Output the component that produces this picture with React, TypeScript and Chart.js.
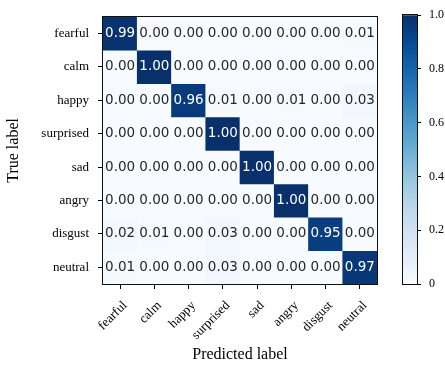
import React, { useEffect, useRef } from 'react';
import { Chart, registerables } from 'chart.js';

Chart.register(...registerables);

// ---- data ----
const trueLabels = ['fearful', 'calm', 'happy', 'surprised', 'sad', 'angry', 'disgust', 'neutral'];
const predictedLabels = ['fearful', 'calm', 'happy', 'surprised', 'sad', 'angry', 'disgust', 'neutral'];

const rowFearful = [0.99, 0.0, 0.0, 0.0, 0.0, 0.0, 0.0, 0.01];
const rowCalm = [0.0, 1.0, 0.0, 0.0, 0.0, 0.0, 0.0, 0.0];
const rowHappy = [0.0, 0.0, 0.96, 0.01, 0.0, 0.01, 0.0, 0.03];
const rowSurprised = [0.0, 0.0, 0.0, 1.0, 0.0, 0.0, 0.0, 0.0];
const rowSad = [0.0, 0.0, 0.0, 0.0, 1.0, 0.0, 0.0, 0.0];
const rowAngry = [0.0, 0.0, 0.0, 0.0, 0.0, 1.0, 0.0, 0.0];
const rowDisgust = [0.02, 0.01, 0.0, 0.03, 0.0, 0.0, 0.95, 0.0];
const rowNeutral = [0.01, 0.0, 0.0, 0.03, 0.0, 0.0, 0.0, 0.97];

const matrix = [rowFearful, rowCalm, rowHappy, rowSurprised, rowSad, rowAngry, rowDisgust, rowNeutral];

const colorbarTicks = [0, 0.2, 0.4, 0.6, 0.8, 1.0];

// ---- colormap (matplotlib "Blues") ----
const BLUES: number[][] = [
  [247, 251, 255],
  [222, 235, 247],
  [198, 219, 239],
  [158, 202, 225],
  [107, 174, 214],
  [66, 146, 198],
  [33, 113, 181],
  [8, 81, 156],
  [8, 48, 107],
];

function blues(t: number): string {
  const v = Math.max(0, Math.min(1, t));
  const p = v * (BLUES.length - 1);
  const i = Math.min(BLUES.length - 2, Math.floor(p));
  const f = p - i;
  const a = BLUES[i];
  const b = BLUES[i + 1];
  const c = a.map((x, k) => Math.round(x + (b[k] - x) * f));
  return `rgb(${c[0]},${c[1]},${c[2]})`;
}

const SERIF = '"Liberation Serif", "DejaVu Serif", serif';

const framePlugin = {
  id: 'frame',
  afterDraw(chart: any) {
    const { ctx, chartArea: a } = chart;
    ctx.save();
    ctx.strokeStyle = '#111';
    ctx.lineWidth = 1;
    const l = Math.round(a.left) - 0.5;
    const t = Math.round(a.top) - 0.5;
    const r = Math.round(a.right) + 0.5;
    const b = Math.round(a.bottom) + 0.5;
    ctx.strokeRect(l, t, r - l, b - t);
    ctx.restore();
  },
};

const cellTextPlugin = {
  id: 'cellText',
  afterDatasetsDraw(chart: any) {
    const ctx = chart.ctx;
    ctx.save();
    ctx.font = '13.5px "DejaVu Sans", sans-serif';
    ctx.textAlign = 'center';
    ctx.textBaseline = 'middle';
    chart.data.datasets.forEach((_ds: any, r: number) => {
      const meta = chart.getDatasetMeta(r);
      meta.data.forEach((el: any, c: number) => {
        const v = matrix[r][c];
        const { x, y, base } = el.getProps(['x', 'y', 'base'], true);
        ctx.fillStyle = v > 0.5 ? '#ffffff' : '#262626';
        ctx.fillText(v.toFixed(2), x, (y + base) / 2);
      });
    });
    ctx.restore();
  },
};

export default function App() {
  const mainRef = useRef<HTMLCanvasElement>(null);
  const cbRef = useRef<HTMLCanvasElement>(null);

  useEffect(() => {
    if (!mainRef.current || !cbRef.current) return;

    const main = new Chart(mainRef.current, {
      type: 'bar',
      data: {
        labels: predictedLabels,
        datasets: matrix.map((row, r) => ({
          label: trueLabels[r],
          data: row.map(() => [r, r + 1]),
          backgroundColor: row.map((v) => blues(v)),
          borderWidth: 0,
          barPercentage: 1,
          categoryPercentage: 1,
          grouped: false,
        })),
      } as any,
      options: {
        animation: false,
        responsive: false,
        events: [],
        layout: { padding: { left: 0, top: 9, right: 13, bottom: 0 } },
        plugins: { legend: { display: false }, tooltip: { enabled: false } },
        scales: {
          x: {
            type: 'category',
            grid: { offset: false, drawOnChartArea: false, color: '#000', tickLength: 5 },
            border: { display: false },
            ticks: {
              minRotation: 45,
              maxRotation: 45,
              autoSkip: false,
              color: '#000',
              padding: 9,
              labelOffset: 5,
              font: { family: SERIF, size: 13 },
            },
            title: {
              display: true,
              text: 'Predicted label',
              color: '#000',
              font: { family: SERIF, size: 16 },
              padding: { top: 0, bottom: 1 },
            },
            afterFit: (s: any) => {
              s.height = 81;
            },
          },
          y: {
            type: 'linear',
            min: 0,
            max: 8,
            reverse: true,
            afterBuildTicks: (s: any) => {
              s.ticks = trueLabels.map((_l, i) => ({ value: i + 0.5 }));
            },
            grid: { drawOnChartArea: false, color: '#000', tickLength: 5 },
            border: { display: false },
            ticks: {
              autoSkip: false,
              color: '#000',
              padding: 9,
              font: { family: SERIF, size: 13 },
              callback: (_v: any, i: number) => trueLabels[i],
            },
            title: {
              display: true,
              text: 'True label',
              color: '#000',
              font: { family: SERIF, size: 16 },
              padding: { top: 4, bottom: 0 },
            },
            afterFit: (s: any) => {
              s.width = 103;
            },
          },
        },
      } as any,
      plugins: [cellTextPlugin, framePlugin],
    });

    const cb = new Chart(cbRef.current, {
      type: 'bar',
      data: {
        labels: ['scale'],
        datasets: [
          {
            data: [[0, 1]],
            borderWidth: 0,
            barPercentage: 1,
            categoryPercentage: 1,
            backgroundColor: (context: any) => {
              const { ctx, chartArea } = context.chart;
              if (!chartArea) return blues(0.5);
              const g = ctx.createLinearGradient(0, chartArea.bottom, 0, chartArea.top);
              BLUES.forEach((c, i) => g.addColorStop(i / (BLUES.length - 1), `rgb(${c[0]},${c[1]},${c[2]})`));
              return g;
            },
          },
        ],
      } as any,
      options: {
        animation: false,
        responsive: false,
        events: [],
        layout: { padding: { left: 13, top: 10, right: 0, bottom: 81 } },
        plugins: { legend: { display: false }, tooltip: { enabled: false } },
        scales: {
          x: { display: false },
          y: {
            position: 'right',
            min: 0,
            max: 1,
            afterBuildTicks: (s: any) => {
              s.ticks = colorbarTicks.map((v) => ({ value: v }));
            },
            grid: { drawOnChartArea: false, color: '#000', tickLength: 4 },
            border: { display: false },
            ticks: {
              color: '#000',
              padding: 8,
              font: { family: SERIF, size: 12 },
              callback: (v: any) => (Number(v) === 0 ? '0' : Number(v).toFixed(1)),
            },
            afterFit: (s: any) => {
              s.width = 28;
            },
          },
        },
      } as any,
      plugins: [framePlugin],
    });

    return () => {
      main.destroy();
      cb.destroy();
    };
  }, []);

  return (
    <div style={{ position: 'absolute', left: 0, top: 0, width: 445, height: 365, background: '#fff' }}>
      <canvas ref={mainRef} width={390} height={365} style={{ position: 'absolute', left: 0, top: 0, width: 390, height: 365 }} />
      <canvas ref={cbRef} width={55} height={365} style={{ position: 'absolute', left: 390, top: 0, width: 55, height: 365 }} />
    </div>
  );
}
